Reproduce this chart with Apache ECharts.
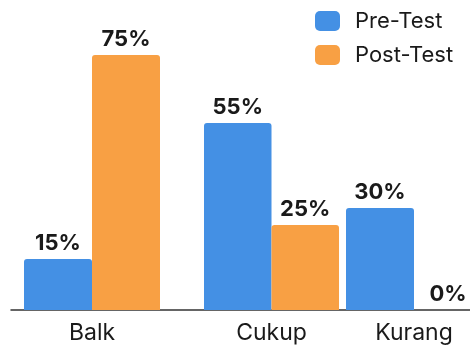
<!DOCTYPE html>
<html>
<head>
<meta charset="utf-8">
<script src="https://cdn.jsdelivr.net/npm/echarts@6/dist/echarts.min.js"></script>
<style>html,body{margin:0;padding:0;background:#fff}#c{width:470px;height:349px}</style>
</head>
<body>
<div id="c"></div>
<script>
const categories = ['Balk', 'Cukup', 'Kurang'];
const seriesNames = ['Pre-Test', 'Post-Test'];
const preTest = [15, 55, 30];
const postTest = [75, 25, 0];

const colors = ['#4490E4', '#F8A044'];
const font = 'Inter';
const groupGrids = [
  { left: 24, right: 310 },
  { left: 204, right: 131 },
  { left: 346, right: -12 }
];
const grids = [], xAxes = [], yAxes = [], series = [];
groupGrids.forEach((g, i) => {
  grids.push({ left: g.left, right: g.right, top: 55, bottom: 39, outerBoundsMode: 'none', containLabel: false });
  xAxes.push({
    type: 'category', gridIndex: i, data: [categories[i]],
    axisLine: { show: false }, axisTick: { show: false },
    axisLabel: { fontSize: 23, color: '#1a1a1a', fontFamily: font, margin: 12 }
  });
  yAxes.push({ type: 'value', gridIndex: i, min: 0, max: 75, show: false });
  [preTest, postTest].forEach((arr, s) => {
    series.push({
      type: 'bar', name: seriesNames[s], xAxisIndex: i, yAxisIndex: i,
      data: [arr[i]], barGap: '0%', barCategoryGap: '0%',
      itemStyle: { color: colors[s], borderRadius: [3, 3, 0, 0] },
      label: {
        show: true, position: 'top', distance: 5, formatter: '{c}%',
        fontSize: 22, fontWeight: 'bold', color: '#1a1a1a', fontFamily: font
      }
    });
  });
});
// baseline axis spanning the whole plot
grids.push({ left: 11, right: 0, top: 55, bottom: 39, outerBoundsMode: 'none' });
xAxes.push({ type: 'value', gridIndex: 3, min: 0, max: 1, axisLine: { show: true, lineStyle: { color: '#333', width: 1.5 } },
  axisTick: { show: false }, axisLabel: { show: false }, splitLine: { show: false } });
yAxes.push({ type: 'value', gridIndex: 3, min: 0, max: 1, show: false });

const chart = echarts.init(document.getElementById('c'), null, { renderer: 'canvas' });
chart.setOption({
  animation: false,
  backgroundColor: '#fff',
  legend: {
    data: seriesNames, orient: 'vertical', left: 315, top: 10, padding: 0,
    itemWidth: 25, itemHeight: 20, itemGap: 12, icon: 'roundRect',
    textStyle: { fontSize: 22, color: '#1a1a1a', fontFamily: font, padding: [0, 0, 0, 10] }
  },
  grid: grids, xAxis: xAxes, yAxis: yAxes, series: series
});
</script>
</body>
</html>
